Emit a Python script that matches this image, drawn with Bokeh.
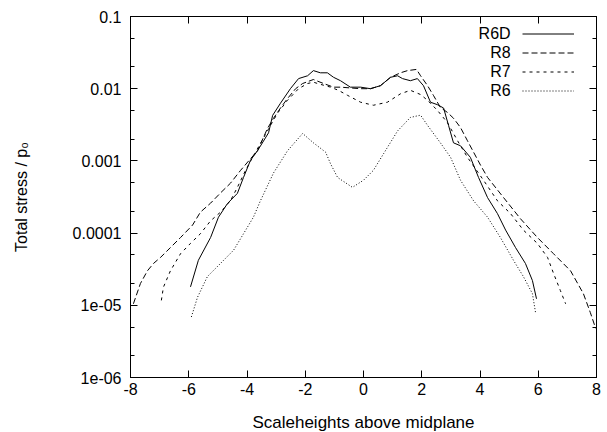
from bokeh.plotting import figure
from bokeh.models import (FixedTicker, LinearAxis, LogAxis, Legend, LegendItem, Label,
                          CustomJSTickFormatter, ColumnDataSource)
from bokeh.embed import file_html
from bokeh.resources import INLINE

# ---------------- data ----------------
r6d_x = [-5.94, -5.67, -5.25, -4.98, -4.67, -4.33, -4.12, -3.88, -3.64, -3.26, -3.12, -2.85,
         -2.51, -2.23, -1.92, -1.72, -1.48, -1.24, -1.03, -0.79, -0.45, -0.10, 0.24, 0.58,
         0.93, 1.17, 1.34, 1.61, 1.85, 2.06, 2.30, 2.54, 2.75, 2.92, 3.09, 3.33, 3.67, 3.95,
         4.26, 4.60, 4.88, 5.22, 5.56, 5.80, 5.94]
r6d_y = [1.8e-5, 4.2e-5, 8.7e-5, 1.66e-4, 2.57e-4, 3.55e-4, 5.9e-4, 1.02e-3, 1.38e-3, 2.45e-3,
         4.27e-3, 6.3e-3, 0.0100, 0.0138, 0.0151, 0.0178, 0.0166, 0.0166, 0.0144, 0.0129,
         0.0105, 0.0105, 0.0100, 0.0110, 0.0144, 0.0151, 0.0138, 0.0129, 0.0138, 0.0110,
         6.5e-3, 6.0e-3, 5.4e-3, 3.1e-3, 1.78e-3, 1.62e-3, 1.12e-3, 5.9e-4, 3.1e-4, 1.86e-4,
         1.1e-4, 6.3e-5, 3.8e-5, 2.2e-5, 1.23e-5]

r8_x = [-7.90, -7.66, -7.42, -7.21, -6.97, -6.63, -6.28, -5.87, -5.60, -5.25, -4.91, -4.57,
        -4.22, -3.88, -3.64, -3.30, -3.09, -2.85, -2.61, -2.33, -2.09, -1.72, -1.37, -1.03,
        -0.79, -0.10, 0.24, 0.58, 0.93, 1.27, 1.51, 1.82, 1.96, 2.20, 2.40, 2.64, 2.88, 3.09,
        3.33, 3.57, 3.78, 4.02, 4.26, 4.81, 5.39, 5.97, 6.52, 7.11, 7.55, 7.79, 7.97]
r8_y = [1.05e-5, 2.0e-5, 3.0e-5, 3.8e-5, 4.6e-5, 6.3e-5, 8.7e-5, 1.29e-4, 1.95e-4, 2.6e-4,
        3.6e-4, 4.9e-4, 7.4e-4, 1.07e-3, 1.38e-3, 2.8e-3, 3.9e-3, 5.4e-3, 7.3e-3, 0.0100,
        0.0118, 0.0134, 0.0118, 0.0105, 0.0105, 0.0100, 0.0100, 0.0110, 0.0144, 0.0166,
        0.0178, 0.0185, 0.0151, 0.0110, 8.1e-3, 5.5e-3, 4.7e-3, 3.9e-3, 2.9e-3, 1.9e-3,
        1.32e-3, 8.7e-4, 5.9e-4, 3.1e-4, 1.58e-4, 8.7e-5, 5.2e-5, 3.0e-5, 1.45e-5, 7.9e-6,
        4.8e-6]

r7_x = [-6.94, -6.87, -6.63, -6.28, -5.94, -5.60, -5.25, -4.91, -4.57, -4.33, -4.05, -3.78,
        -3.54, -3.30, -2.95, -2.61, -2.23, -1.92, -1.72, -1.48, -1.13, -0.86, -0.55, -0.10,
        0.34, 0.82, 1.27, 1.61, 1.96, 2.20, 2.54, 2.88, 3.23, 3.57, 4.12, 4.60, 5.05, 5.49,
        5.97, 6.32, 6.52, 6.76, 6.94]
r7_y = [1.17e-5, 1.78e-5, 3.0e-5, 5.2e-5, 7.2e-5, 9.8e-5, 1.48e-4, 1.95e-4, 2.8e-4, 4.3e-4,
        7.4e-4, 1.17e-3, 1.74e-3, 2.6e-3, 4.6e-3, 6.9e-3, 0.0100, 0.0118, 0.0123, 0.0115,
        0.0105, 9.5e-3, 8.1e-3, 6.5e-3, 5.9e-3, 6.5e-3, 8.5e-3, 9.5e-3, 8.3e-3, 6.9e-3,
        5.0e-3, 3.4e-3, 1.9e-3, 1.12e-3, 5.4e-4, 2.8e-4, 1.86e-4, 1.1e-4, 7.2e-5, 4.6e-5,
        2.8e-5, 1.6e-5, 1.05e-5]

r6_x = [-5.91, -5.70, -5.36, -4.91, -4.46, -4.12, -3.78, -3.54, -3.09, -2.61, -2.09, -1.72,
        -1.30, -1.13, -0.89, -0.38, 0.00, 0.34, 0.69, 1.17, 1.61, 1.96, 2.20, 2.64, 2.99,
        3.33, 3.78, 4.26, 4.70, 5.15, 5.49, 5.80, 5.91]
r6_y = [6.9e-6, 1.29e-5, 2.5e-5, 3.8e-5, 5.8e-5, 9.8e-5, 1.66e-4, 2.8e-4, 6.8e-4, 1.38e-3,
        2.4e-3, 1.78e-3, 1.32e-3, 9.1e-4, 5.9e-4, 4.3e-4, 5.4e-4, 7.4e-4, 1.26e-3, 2.6e-3,
        4.0e-3, 4.3e-3, 3.1e-3, 1.78e-3, 1.12e-3, 5.4e-4, 2.8e-4, 1.66e-4, 8.7e-5, 4.2e-5,
        2.5e-5, 1.45e-5, 7.8e-6]

series_names = ["R6D", "R8", "R7", "R6"]

x_ticks = [-8, -6, -4, -2, 0, 2, 4, 6, 8]
x_tick_labels = ["-8", "-6", "-4", "-2", "0", "2", "4", "6", "8"]
y_ticks = [1e-6, 1e-5, 1e-4, 1e-3, 1e-2, 1e-1]
y_tick_labels = ["1e-06", "1e-05", "0.0001", "0.001", "0.01", "0.1"]
y_minor_ticks = [2e-6, 5e-6, 2e-5, 5e-5, 2e-4, 5e-4, 2e-3, 5e-3, 2e-2, 5e-2]

x_title = "Scaleheights above midplane"
y_title = "Total stress / p\u2080"

# legend text anchor (data coords, right aligned)
legend_text_x = 5.05
legend_text_y = [0.0582, 0.0317, 0.0173, 0.00944]

# ---------------- figure ----------------
FONT = "Liberation Sans"
FS = "16px"

p = figure(frame_width=466, frame_height=361,
           x_range=(-8, 8), y_range=(1e-6, 0.1), y_axis_type="log",
           output_backend="svg", toolbar_location=None,
           min_border_left=130, min_border_right=9, min_border_top=16, min_border_bottom=52)
p.background_fill_color = "white"
p.border_fill_color = "white"
p.outline_line_color = "black"
p.outline_line_width = 1
p.xgrid.visible = False
p.ygrid.visible = False


def lookup_formatter(vals, labs, log=False):
    cmp = "Math.abs(Math.log10(tick) - Math.log10(vals[i])) < 1e-6" if log else \
          "Math.abs(tick - vals[i]) < 1e-9"
    return CustomJSTickFormatter(args=dict(vals=vals, labs=labs), code=f"""
for (let i = 0; i < vals.length; i++) {{
  if ({cmp}) return labs[i];
}}
return "";
""")


def style_axis(ax):
    ax.axis_line_color = "black"
    ax.major_tick_line_color = "black"
    ax.minor_tick_line_color = "black"
    ax.major_tick_in = 7
    ax.major_tick_out = 0
    ax.minor_tick_in = 4
    ax.minor_tick_out = 0
    ax.major_label_text_font = FONT
    ax.major_label_text_font_size = FS
    ax.major_label_text_color = "black"


xax = p.xaxis[0]
xax.ticker = FixedTicker(ticks=x_ticks)
xax.formatter = lookup_formatter(x_ticks, x_tick_labels)
style_axis(xax)
xax.major_label_standoff = 5
xax.axis_label = x_title
xax.axis_label_text_font = FONT
xax.axis_label_text_font_size = "17px"
xax.axis_label_text_font_style = "normal"
xax.axis_label_text_color = "black"
xax.axis_label_standoff = 15

yax = p.yaxis[0]
yax.ticker = FixedTicker(ticks=y_ticks, minor_ticks=y_minor_ticks)
yax.formatter = lookup_formatter(y_ticks, y_tick_labels, log=True)
style_axis(yax)
yax.major_label_standoff = 9
yax.axis_label = y_title
yax.axis_label_text_font = FONT
yax.axis_label_text_font_size = FS
yax.axis_label_text_font_style = "normal"
yax.axis_label_text_color = "black"
yax.axis_label_standoff = 40

# mirrored ticks (no labels) on top and right, like gnuplot
top_ax = LinearAxis(ticker=FixedTicker(ticks=x_ticks))
style_axis(top_ax)
top_ax.major_label_standoff = 0
top_ax.major_label_text_font_size = "6px"
top_ax.major_label_text_alpha = 0
p.add_layout(top_ax, "above")

right_ax = LogAxis(ticker=FixedTicker(ticks=y_ticks, minor_ticks=y_minor_ticks))
style_axis(right_ax)
right_ax.major_label_standoff = 0
right_ax.major_label_text_font_size = "6px"
right_ax.major_label_text_alpha = 0
right_ax.formatter = lookup_formatter(y_ticks, y_tick_labels, log=True)
p.add_layout(right_ax, "right")

# ---------------- curves ----------------
series = [
    (r6d_x, r6d_y, "solid"),
    (r8_x, r8_y, "6 3"),
    (r7_x, r7_y, "3 4"),
    (r6_x, r6_y, "1 2"),
]
renderers = []
for xs, ys, dash in series:
    src = ColumnDataSource(data=dict(x=xs, y=ys))
    r = p.line("x", "y", source=src, line_color="black", line_width=1, line_dash=dash)
    renderers.append(r)

# ---------------- legend (gnuplot style: text then sample) ----------------
legend = Legend(items=[LegendItem(label=name, renderers=[r])
                       for name, r in zip(series_names, renderers)],
                location=(392, 277), orientation="vertical",
                glyph_width=52, glyph_height=19, label_height=19, label_width=10,
                label_standoff=2, spacing=0, padding=0, margin=0,
                label_text_font_size="10px", label_text_alpha=0,
                border_line_alpha=0, background_fill_alpha=0)
p.add_layout(legend, "center")

for name, ly in zip(series_names, legend_text_y):
    p.add_layout(Label(x=legend_text_x, y=ly, text=name, text_align="right",
                       text_baseline="middle", text_font=FONT, text_font_size=FS,
                       text_color="black"))

open("out.html", "w").write(file_html(p, INLINE))
